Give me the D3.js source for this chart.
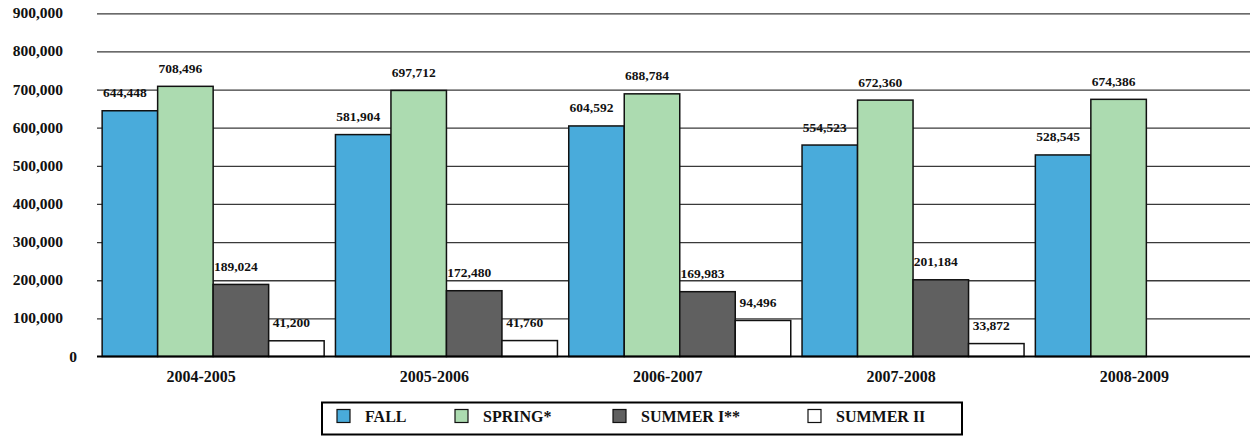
<!DOCTYPE html>
<html>
<head>
<meta charset="utf-8">
<script src="https://cdn.jsdelivr.net/npm/d3@7"></script>
<style>
  html, body { margin: 0; padding: 0; background: #fff; }
  svg { display: block; }
</style>
</head>
<body>
<svg id="chart" width="1250" height="436" font-family="'Liberation Serif', 'Times New Roman', serif" font-weight="bold"></svg>
<script>
const categories = ["2004-2005", "2005-2006", "2006-2007", "2007-2008", "2008-2009"];
const seriesNames = ["FALL", "SPRING*", "SUMMER I**", "SUMMER II"];
const fall = [644448, 581904, 604592, 554523, 528545];
const spring = [708496, 697712, 688784, 672360, 674386];
const summer1 = [189024, 172480, 169983, 201184, null];
const summer2 = [41200, 41760, 94496, 33872, null];
const yTicks = [0, 100000, 200000, 300000, 400000, 500000, 600000, 700000, 800000, 900000];
const colors = ["#49ABDB", "#ACDBB0", "#606060", "#FFFFFF"];

const seriesValues = [fall, spring, summer1, summer2];

const svg = d3.select("#chart");
const FONT = "'Liberation Serif', 'Times New Roman', serif";
const plotL = 97, plotR = 1250, plotT = 13.3, plotB = 356.5;

const y = d3.scaleLinear().domain([0, 900000]).range([plotB, plotT]);
const x0 = d3.scaleBand().domain(categories).range([96.5, 96.5 + 5 * 233.3])
  .paddingInner(0.0484).paddingOuter(0.0242);
const x1 = d3.scaleBand().domain(seriesNames).range([0, x0.bandwidth()]).padding(0);

// gridlines
const yAxis = d3.axisLeft(y).tickValues(yTicks).tickSize(-(plotR - plotL)).tickFormat("");
const g = svg.append("g").attr("transform", `translate(${plotL},0)`).call(yAxis);
g.select(".domain").remove();
g.selectAll(".tick line").attr("stroke", "#3a3a3a").attr("stroke-width", 1.3);
g.selectAll(".tick").filter(d => d === 0).remove();

// tick labels
const fmt = d3.format(",");
svg.append("g").selectAll("text").data(yTicks).join("text")
  .attr("x", d => d === 0 ? 77 : 63)
  .attr("y", d => y(d) + 5)
  .attr("text-anchor", "end")
  .attr("font-family", FONT).attr("font-weight", "bold").attr("fill", "#111")
  .attr("font-size", 15.5)
  .text(d => fmt(d));

// bars
const groups = svg.append("g").selectAll("g").data(categories).join("g")
  .attr("transform", d => `translate(${x0(d)},0)`);

const barData = (cat, ci) => seriesNames.map((s, si) => ({ s, si, v: seriesValues[si][ci] }))
  .filter(d => d.v != null);

groups.each(function(cat, ci) {
  const gg = d3.select(this);
  const data = barData(cat, ci);
  gg.selectAll("rect").data(data).join("rect")
    .attr("x", d => x1(d.s))
    .attr("y", d => y(d.v))
    .attr("width", x1.bandwidth())
    .attr("height", d => y(0) - y(d.v))
    .attr("fill", d => colors[d.si])
    .attr("stroke", "#111")
    .attr("stroke-width", 1.5);
  gg.selectAll("text").data(data).join("text")
    .attr("x", d => x1(d.s) + x1.bandwidth() / 2 - 5)
    .attr("y", d => y(d.v) - 13.5)
    .attr("text-anchor", "middle")
    .attr("font-family", FONT).attr("font-weight", "bold").attr("fill", "#111")
    .attr("font-size", 13.5)
    .text(d => fmt(d.v));
});

// baseline
svg.append("line").attr("x1", plotL).attr("x2", plotR).attr("y1", y(0)).attr("y2", y(0))
  .attr("stroke", "#000").attr("stroke-width", 2);

// category labels
svg.append("g").selectAll("text").data(categories).join("text")
  .attr("x", d => x0(d) + x0.bandwidth() / 2 - 12)
  .attr("y", 382)
  .attr("text-anchor", "middle")
  .attr("font-family", FONT).attr("font-weight", "bold").attr("fill", "#111")
  .attr("font-size", 16)
  .text(d => d);

// legend
const lg = svg.append("g");
lg.append("rect").attr("x", 322).attr("y", 402.5).attr("width", 640).attr("height", 32)
  .attr("fill", "#fff").attr("stroke", "#000").attr("stroke-width", 2);
const legendTextX = [365, 483, 641, 836];
seriesNames.forEach((s, i) => {
  lg.append("rect").attr("x", legendTextX[i] - 28).attr("y", 409.5).attr("width", 13).attr("height", 13)
    .attr("fill", colors[i]).attr("stroke", "#111").attr("stroke-width", 1.2);
  lg.append("text").attr("x", legendTextX[i]).attr("y", 421.5)
    .attr("font-family", FONT).attr("font-weight", "bold").attr("fill", "#111")
    .attr("font-size", 16).text(s);
});
</script>
</body>
</html>
